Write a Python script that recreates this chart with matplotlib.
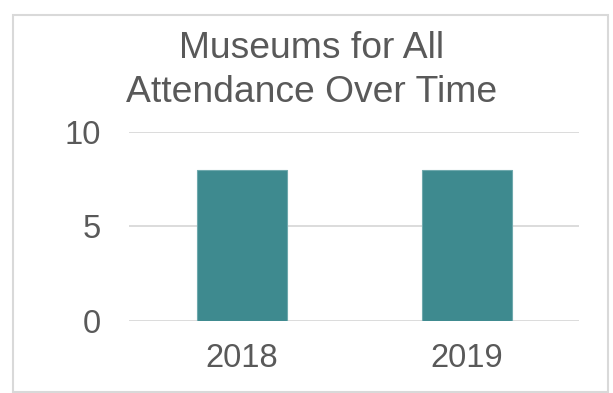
import matplotlib
matplotlib.use("Agg")
import matplotlib.pyplot as plt
from matplotlib.patches import Rectangle

plt.rcParams['font.family'] = ['Liberation Sans', 'DejaVu Sans']

years = ["2018", "2019"]
attendance = [8, 8]
y_ticks = [0, 5, 10]

text_color = "#595959"
grid_color = "#D9D9D9"
bar_color = "#3E8A8F"

fig = plt.figure(figsize=(6.13, 3.93), dpi=100)
ax = fig.add_axes([129 / 613, 1 - 321 / 393, 450 / 613, (321 - 131.7) / 393])

x = range(len(years))
ax.bar(x, attendance, width=0.4, color=bar_color, edgecolor="#6FA9AD",
       linewidth=0.8, zorder=3)

ax.set_xlim(-0.5, len(years) - 0.5)
ax.set_ylim(0, 10)
ax.set_yticks(y_ticks)
ax.set_xticks(list(x))
ax.set_xticklabels(years)
ax.tick_params(axis="both", length=0, labelsize=23.5, colors=text_color)
ax.tick_params(axis="y", pad=20)
ax.tick_params(axis="x", pad=16)
ax.grid(axis="y", color=grid_color, linewidth=1.3, zorder=0)
for side in ax.spines.values():
    side.set_visible(False)

title_x = 312 / 613
fig.text(title_x, 1 - 58.5 / 393, "Museums for All", ha="center",
         va="baseline", fontsize=26.8, color=text_color)
fig.text(title_x, 1 - 101.7 / 393, "Attendance Over Time", ha="center",
         va="baseline", fontsize=26.8, color=text_color)

# chart frame
fig.patches.append(Rectangle((12.5 / 613, 1 - 392 / 393), (608 - 12.5) / 613,
                             (392 - 14.5) / 393, transform=fig.transFigure,
                             fill=False, edgecolor=grid_color, linewidth=1.5))

fig.savefig("out.png", dpi=100)
